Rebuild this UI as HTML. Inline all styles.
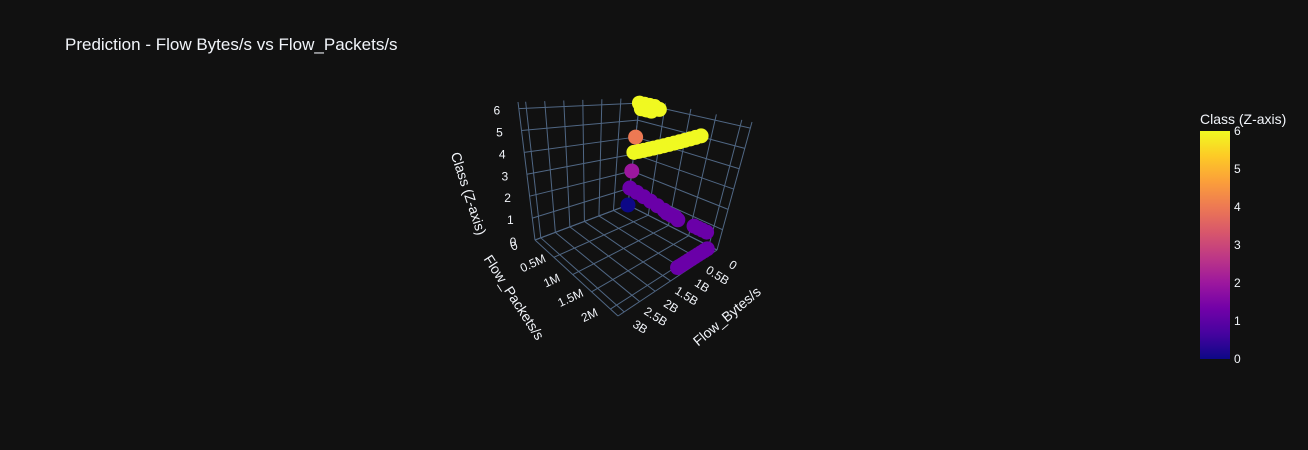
<!DOCTYPE html>
<html><head><meta charset="utf-8">
<style>
html,body{margin:0;padding:0;background:#111111;}
svg{display:block;font-family:"Liberation Sans",sans-serif;}
</style></head>
<body>
<svg id="chart" width="1308" height="450" viewBox="0 0 1308 450" xmlns="http://www.w3.org/2000/svg">
<rect width="1308" height="450" fill="#111111"/>
<text x="65" y="50" fill="#f2f5fa" font-size="17">Prediction - Flow Bytes/s vs Flow_Packets/s</text>
<g id="scene"></g>
<defs>
<linearGradient id="plasma" x1="0" y1="1" x2="0" y2="0">
<stop offset="0" stop-color="#0d0887"/><stop offset="0.111" stop-color="#46039f"/><stop offset="0.222" stop-color="#7201a8"/><stop offset="0.333" stop-color="#9c179e"/><stop offset="0.444" stop-color="#bd3786"/><stop offset="0.556" stop-color="#d8576b"/><stop offset="0.667" stop-color="#ed7953"/><stop offset="0.778" stop-color="#fb9f3a"/><stop offset="0.889" stop-color="#fdca26"/><stop offset="1" stop-color="#f0f921"/>
</linearGradient>
</defs>
<g>
<text x="1200" y="124" fill="#f2f5fa" font-size="14">Class (Z-axis)</text>
<rect x="1200" y="131" width="30" height="228" fill="url(#plasma)"/>
<g id="cbticks" fill="#f2f5fa" font-size="12"></g>
</g>
</svg>
<script>
const bytesTicks=[0,0.5,1,1.5,2,2.5,3];
const bytesTickLabels=["0","0.5B","1B","1.5B","2B","2.5B","3B"];
const packetTicks=[0,0.5,1,1.5,2];
const packetTickLabels=["0","0.5M","1M","1.5M","2M"];
const zTicks=[0,1,2,3,4,5,6];
const cbTicks=[0,1,2,3,4,5,6];
// data: bytes (B), packets (M), z, class
const ptBytes=[0,0,0,0,0,0,0,0,0,0,0,
 0,0,0,0,0,0,0,0,0,0,0,0,0,0,
 0,0.05,0.1,0.15,0.2,0.25,0.3,0.3,0.3,0.35,0.3,0.3,0.3,0.3,
 0.3,0.4,0.5,0.6,0.7,0.8,0.9,1.0,1.1,1.2,1.25];
const ptPackets=[0,0,0,0,0.1,0.2,0.3,0.4,0.05,0.15,0.25,
 0,0.1,0.2,0.3,0.4,0.5,0.6,0.7,0.8,0.9,1.0,1.1,1.2,1.3,
 0,0.2,0.4,0.6,0.8,1.0,1.1,1.2,1.3,1.4,1.75,1.85,1.95,2.05,
 2.15,2.15,2.15,2.15,2.15,2.15,2.15,2.15,2.15,2.15,2.15];
const ptZ=[0,2,4,6,6,6,6,5.9,5.7,5.7,5.7,
 3.1,3.25,3.4,3.55,3.7,3.85,4.0,4.15,4.3,4.45,4.6,4.75,4.9,5.05,
 1,1,1,1,1,1,1,1,1,1,1,1,1,1,
 0.3,0.3,0.3,0.3,0.3,0.3,0.3,0.3,0.3,0.3,0.3];
const ptClass=[0,2,4,6,6,6,6,6,6,6,6,
 6,6,6,6,6,6,6,6,6,6,6,6,6,6,
 1,1,1,1,1,1,1,1,1,1,1,1,1,1,
 1,1,1,1,1,1,1,1,1,1,1];

const BMAX=3.2,PMAX=2.2,ZMAX=6.3;
const C={b00:[628,205],b10:[535,240],b01:[717,250],b11:[618,316],t00:[640,98],t10:[518,102],t01:[752,122],t11:[628,140]};
function lerp(a,b,t){return [a[0]+(b[0]-a[0])*t,a[1]+(b[1]-a[1])*t];}
function proj(b,p,z){const u=b/BMAX,v=p/PMAX,w=z/ZMAX;
 const bot=lerp(lerp(C.b00,C.b10,u),lerp(C.b01,C.b11,u),v);
 const top=lerp(lerp(C.t00,C.t10,u),lerp(C.t01,C.t11,u),v);
 return lerp(bot,top,w);}
const NS="http://www.w3.org/2000/svg";
const scene=document.getElementById('scene');
function mk(tag,attrs,parent){const e=document.createElementNS(NS,tag);for(const k in attrs)e.setAttribute(k,attrs[k]);(parent||scene).appendChild(e);return e;}
const grid=mk('g',{stroke:'#506784','stroke-width':1,fill:'none'});


function line(a,b,name){const l=mk('line',{x1:a[0],y1:a[1],x2:b[0],y2:b[1]},grid);
 
 }
bytesTicks.forEach(b=>{line(proj(b,0,0),proj(b,PMAX,0),'floor-grid-bytes');line(proj(b,0,0),proj(b,0,ZMAX),'wall-grid-bytes');});
packetTicks.forEach(p=>{line(proj(0,p,0),proj(BMAX,p,0),'floor-grid-packets');line(proj(0,p,0),proj(0,p,ZMAX),'wall-grid-packets');});
zTicks.forEach(z=>{line(proj(BMAX,0,z),proj(0,0,z),'wall-grid-z');line(proj(0,0,z),proj(0,PMAX,z),'wall-grid-z');});
line(proj(BMAX,0,0),proj(BMAX,0,ZMAX),'edge');line(proj(0,PMAX,0),proj(0,PMAX,ZMAX),'edge');
line(proj(BMAX,0,0),proj(BMAX,PMAX,0),'edge');line(proj(0,PMAX,0),proj(BMAX,PMAX,0),'edge');
const lab=mk('g',{fill:'#f2f5fa','font-size':12,'text-anchor':'middle'});


bytesTicks.forEach((b,i)=>{const q=proj(b,PMAX,0);const x=q[0]+16,y=q[1]+19;const t=mk('text',{x:x,y:y,transform:`rotate(32 ${x} ${y-4})`},lab);t.textContent=bytesTickLabels[i];
 
 });
packetTickLabels.forEach((s,i)=>{const q=proj(BMAX,packetTicks[i],0);const x=q[0]-21,y=q[1]+10;const t=mk('text',{x:x,y:y,transform:`rotate(-25 ${x} ${y-4})`},lab);t.textContent=s;
 
 });
zTicks.forEach(z=>{const q=proj(BMAX,0,z);const t=mk('text',{x:q[0]-22,y:q[1]+6},lab);t.textContent=String(z);
 
 });
const at=mk('g',{fill:'#f2f5fa','font-size':14,'text-anchor':'middle'});


let t1=mk('text',{x:0,y:0,transform:'translate(464,195) rotate(72)'},at);t1.textContent='Class (Z-axis)';


let t2=mk('text',{x:0,y:0,transform:'translate(510,300) rotate(57)'},at);t2.textContent='Flow_Packets/s';


let t3=mk('text',{x:0,y:0,transform:'translate(730,320) rotate(-40)'},at);t3.textContent='Flow_Bytes/s';


const colors=['#0d0887','#6a00a8','#9c179e','#bd3786','#ed7953','#fb9f3a','#f0f921'];
const pts=mk('g',{});


ptBytes.forEach((b,i)=>{const q=proj(b,ptPackets[i],ptZ[i]);const c=mk('circle',{cx:q[0],cy:q[1],r:7.5,fill:colors[ptClass[i]]},pts);
 
 });
const cb=document.getElementById('cbticks');
cbTicks.forEach(v=>{const y=359-v/6*228;const t=mk('text',{x:1234,y:y+4},cb);t.textContent=String(v);
 
 });
</script>
</body></html>
